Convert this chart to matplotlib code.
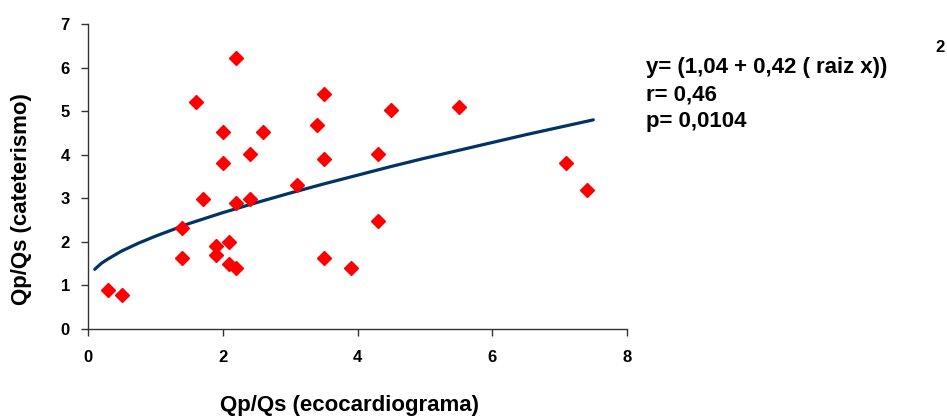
import matplotlib
matplotlib.use("Agg")
import matplotlib.pyplot as plt

# Scatter data: Qp/Qs (ecocardiograma) vs Qp/Qs (cateterismo)
eco = [0.3, 0.5, 1.4, 1.4, 1.6, 1.7, 1.9, 1.9, 2.0, 2.0, 2.1, 2.1, 2.2, 2.2, 2.2,
       2.4, 2.4, 2.6, 3.1, 3.4, 3.5, 3.5, 3.5, 3.9, 4.3, 4.3, 4.5, 5.5, 7.1, 7.4]
cat = [0.90, 0.77, 2.32, 1.62, 5.22, 2.98, 1.91, 1.69, 4.52, 3.81, 2.00, 1.50, 6.21, 2.90, 1.40,
       4.02, 2.98, 4.52, 3.31, 4.69, 5.39, 3.90, 1.62, 1.41, 4.02, 2.48, 5.02, 5.10, 3.81, 3.19]

# Trend line values
trend_x = [0.1, 0.2, 0.3, 0.5, 0.75, 1.0, 1.5, 2.0, 2.5, 3.0, 3.5, 4.0, 4.5, 5.0, 5.5, 6.0, 6.5, 7.0, 7.5]
trend_y = [1.37, 1.51, 1.61, 1.79, 1.97, 2.13, 2.42, 2.67, 2.90, 3.12, 3.33, 3.53, 3.73, 3.92, 4.10, 4.28, 4.46, 4.63, 4.80]

xticks = [0, 2, 4, 6, 8]
yticks = [0, 1, 2, 3, 4, 5, 6, 7]

plt.rcParams['font.family'] = ['Liberation Sans', 'DejaVu Sans']

fig = plt.figure(figsize=(9.47, 4.17), dpi=100)
ax = fig.add_axes([88/947, (417-329)/417, (627-88)/947, (329-24)/417])

ax.plot(trend_x, trend_y, color='#003366', lw=2.3, solid_capstyle='round', zorder=2)
ax.plot(eco, cat, linestyle='none', marker='D', markersize=7.5, color='#FF0000',
        markeredgecolor='#FF0000', zorder=3)

ax.set_xlim(0, 8)
ax.set_ylim(0, 7)
ax.set_xticks(xticks)
ax.set_yticks(yticks)
for s in ['top', 'right']:
    ax.spines[s].set_visible(False)
for s in ['left', 'bottom']:
    ax.spines[s].set_color('#333333')
    ax.spines[s].set_linewidth(1.0)
ax.tick_params(direction='out', length=5, width=1, color='#333333', labelsize=12)
ax.tick_params(axis='y', pad=8)
ax.tick_params(axis='x', pad=10)
for lab in ax.get_xticklabels() + ax.get_yticklabels():
    lab.set_fontweight('bold')

fig.text(350/947, 1 - 405/417, 'Qp/Qs (ecocardiograma)', fontsize=16, fontweight='bold',
         ha='center', va='center')
fig.text(22/947, 1 - 199/417, 'Qp/Qs (cateterismo)', fontsize=16, fontweight='bold',
         ha='center', va='center', rotation=90)

fig.text(646/947, 1 - 68/417, 'y= (1,04 + 0,42 ( raiz x))', fontsize=16, fontweight='bold',
         va='center', ha='left')
fig.text(935/947, 1 - 48/417, '2', fontsize=12, fontweight='bold', va='center', ha='left')
fig.text(646/947, 1 - 95/417, 'r= 0,46', fontsize=16, fontweight='bold', va='center', ha='left')
fig.text(646/947, 1 - 121/417, 'p= 0,0104', fontsize=16, fontweight='bold', va='center', ha='left')

fig.savefig('out.png', dpi=100)
